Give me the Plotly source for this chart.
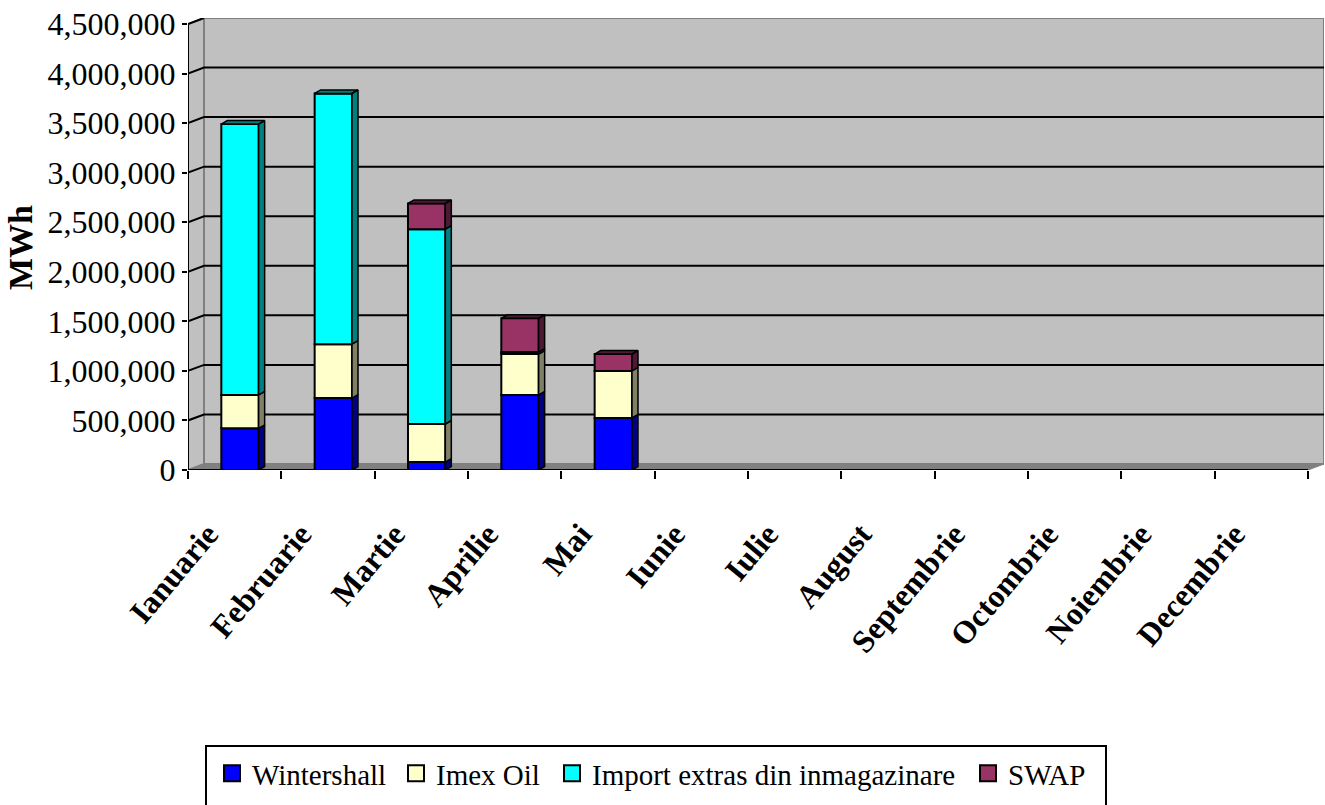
import plotly.graph_objects as go

months = ["Ianuarie", "Februarie", "Martie", "Aprilie", "Mai", "Iunie", "Iulie", "August",
          "Septembrie", "Octombrie", "Noiembrie", "Decembrie"]
wintershall = [420000, 726000, 80000, 757000, 525000, None, None, None, None, None, None, None]
imex_oil = [337000, 544000, 384000, 413000, 475000, None, None, None, None, None, None, None]
import_extras = [2733000, 2530000, 1966000, 20000, 0, None, None, None, None, None, None, None]
swap = [0, 0, 260000, 340000, 170000, None, None, None, None, None, None, None]
y_ticks = [0, 500000, 1000000, 1500000, 2000000, 2500000, 3000000, 3500000, 4000000, 4500000]

series = [
    ("Wintershall", wintershall, "#0000FF", "#000080"),
    ("Imex Oil", imex_oil, "#FFFFCC", "#808066"),
    ("Import extras din inmagazinare", import_extras, "#00FFFF", "#008080"),
    ("SWAP", swap, "#993366", "#4D1A33"),
]

# pixel geometry of the reference, converted to axis units below
LEFT, RIGHT, TOP, BOTTOM = 188, 1324, 18, 470
CAT_PX = 1120 / 12
VAL_PX = 446 / 4500000

WALL_DX = 16 / CAT_PX
WALL_DY = 6 / VAL_PX
BAR_DX = 6 / CAT_PX
BAR_DY = 3.5 / VAL_PX
BAR_W = 0.4
BAR_SHIFT = 0.057
LABEL_SHIFT = 0.29

x_min = -0.5
x_max = x_min + (RIGHT - LEFT) / CAT_PX
x_end = 11.5
y_max = (BOTTOM - TOP) / VAL_PX
FONT = "Liberation Serif"


def paper_x(px):
    return (px - LEFT) / (RIGHT - LEFT)


def paper_y(px):
    return (BOTTOM - px) / (BOTTOM - TOP)


fig = go.Figure()
x_pos = [i + BAR_SHIFT for i in range(12)]
bases = [0] * 12
totals = [sum(s[1][k] or 0 for s in series) for k in range(12)]
for name, values, color, dark in series:
    vals = [v or 0 for v in values]
    fig.add_bar(
        x=x_pos, y=values, base=bases, width=BAR_W, name=name, showlegend=False,
        marker=dict(color=color, line=dict(color="black", width=2)),
    )
    # side faces, plus a top face on the last segment of each stack
    px_, py_ = [], []
    for k in range(12):
        if vals[k] == 0:
            continue
        x1 = x_pos[k] + BAR_W / 2
        x0 = x_pos[k] - BAR_W / 2
        b, t = bases[k], bases[k] + vals[k]
        px_ += [x1, x1 + BAR_DX, x1 + BAR_DX, x1, x1, None]
        py_ += [b, b + BAR_DY, t + BAR_DY, t, b, None]
        if t == totals[k]:
            px_ += [x0, x0 + BAR_DX, x1 + BAR_DX, x1, x0, None]
            py_ += [t, t + BAR_DY, t + BAR_DY, t, t, None]
    fig.add_scatter(
        x=px_, y=py_, mode="lines", fill="toself", fillcolor=dark, showlegend=False,
        line=dict(color="black", width=1.5), hoverinfo="skip",
    )
    bases = [a + b for a, b in zip(bases, vals)]

# one legend per entry so the gaps can follow the reference
legend_left = [212, 396, 552, 968]
legends = {}
for i, (name, values, color, dark) in enumerate(series):
    key = "legend" if i == 0 else f"legend{i + 1}"
    fig.add_scatter(
        x=[None], y=[None], mode="markers", name=name, legend=key,
        marker=dict(symbol="square", size=16, color=color, line=dict(color="black", width=2)),
    )
    legends[key] = dict(
        x=paper_x(legend_left[i]), xanchor="left", y=paper_y(748), yanchor="top",
        font=dict(family=FONT, size=29), bgcolor="rgba(0,0,0,0)", borderwidth=0,
        itemwidth=30,
    )

shapes = [
    # side wall + back wall
    dict(type="path", layer="below", line=dict(color="#808080", width=2), fillcolor="#C0C0C0",
         path=f"M{x_min},0 L{x_min + WALL_DX},{WALL_DY} L{x_end + WALL_DX},{WALL_DY} "
              f"L{x_end + WALL_DX},{4500000 + WALL_DY} L{x_min + WALL_DX},{4500000 + WALL_DY} "
              f"L{x_min},4500000 Z"),
    dict(type="line", layer="below", x0=x_min + WALL_DX, x1=x_min + WALL_DX, y0=WALL_DY,
         y1=4500000 + WALL_DY, line=dict(color="#808080", width=2)),
    # floor
    dict(type="path", layer="below", line=dict(color="#808080", width=1), fillcolor="#808080",
         path=f"M{x_min},0 L{x_min + WALL_DX},{WALL_DY} L{x_end + WALL_DX},{WALL_DY} L{x_end},0 Z"),
]
for v in y_ticks[1:-1]:
    shapes.append(dict(
        type="path", layer="below", line=dict(color="black", width=2),
        path=f"M{x_min},{v} L{x_min + WALL_DX},{v + WALL_DY} L{x_end + WALL_DX},{v + WALL_DY}",
    ))
# axis lines
shapes.append(dict(type="line", x0=x_min, x1=x_min, y0=0, y1=4500000, line=dict(color="black", width=2)))
shapes.append(dict(type="line", x0=x_min, x1=x_end, y0=0, y1=0, line=dict(color="black", width=2)))
shapes.append(dict(type="line", x0=x_min, x1=x_min + WALL_DX, y0=4500000, y1=4500000 + WALL_DY,
                   line=dict(color="black", width=2)))
# legend box, its bottom edge is cut off by the page
shapes.append(dict(type="path", xref="paper", yref="paper", line=dict(color="black", width=2),
                   path=f"M{paper_x(206)},{paper_y(830)} L{paper_x(206)},{paper_y(746)} "
                        f"L{paper_x(1106)},{paper_y(746)} L{paper_x(1106)},{paper_y(830)}"))

fig.update_layout(
    width=1325, height=805,
    margin=dict(l=LEFT, r=1325 - RIGHT, t=TOP, b=805 - BOTTOM, autoexpand=False),
    paper_bgcolor="white", plot_bgcolor="white",
    barmode="overlay", shapes=shapes,
    font=dict(family=FONT, color="black"),
    annotations=[dict(
        text="<b>MWh</b>", xref="paper", yref="paper", x=paper_x(20), y=paper_y(248),
        xanchor="center", yanchor="middle", textangle=-90, showarrow=False,
        font=dict(family=FONT, size=34),
    )],
    **legends,
)
fig.update_xaxes(
    range=[x_min, x_max], showgrid=False, zeroline=False, showline=False,
    tickmode="array", tickvals=[i - LABEL_SHIFT for i in range(12)], ticktext=months, tickangle=-50,
    ticks="", ticklabelstandoff=38,
    tickfont=dict(family=FONT, size=32, weight="bold"),
    minor=dict(tickmode="array", tickvals=[i - 0.5 for i in range(13)], ticks="outside",
               ticklen=8, tickwidth=2, tickcolor="black", showgrid=False),
)
fig.update_yaxes(
    range=[0, y_max], showgrid=False, zeroline=False, showline=False,
    tickmode="array", tickvals=y_ticks, tickformat=",", ticks="outside", ticklen=5, tickwidth=2,
    tickcolor="black", tickfont=dict(family=FONT, size=32),
)

# drop the browser's default body margin so the figure sits at the page corner
fig.write_html("out.html", config=dict(displayModeBar=False),
               post_script="document.body.style.margin = '0';")
